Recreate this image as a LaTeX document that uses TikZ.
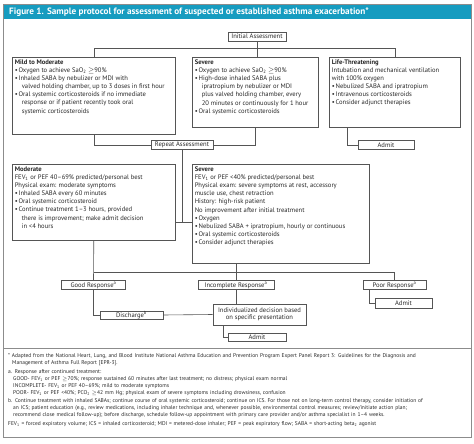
\documentclass[tikz,border=0pt]{standalone}
\usepackage{fontspec}
\setmainfont{PT Sans}
\definecolor{boxc}{RGB}{85,85,85}
\definecolor{framec}{RGB}{140,140,140}
\definecolor{txt}{RGB}{40,40,40}
\definecolor{barc}{RGB}{22,156,192}
\newcommand\bxc[3]{\begin{minipage}[c][#2pt][t]{#1pt}\raggedright #3\end{minipage}}
\newcommand\bul{\par\hangindent=7pt\hangafter=1\noindent\makebox[3.8pt][l]{\textbullet}}
\newcommand\nl{\newline}
\begin{document}
\begin{tikzpicture}[x=1pt,y=-1pt,
  bx/.style={draw=boxc, line width=0.6pt, inner sep=2.5pt, anchor=north west, fill=white, text=txt, font=\fontsize{6.6}{8.1}\selectfont},
  lbl/.style={draw=boxc, line width=0.6pt, inner sep=0pt, text=txt, font=\fontsize{6.6}{7.2}\selectfont, minimum height=8.5pt},
  conn/.style={draw=boxc, line width=0.6pt}]
\useasboundingbox (0,0) rectangle (474,444);
% frame
\fill[barc] (3,4) rectangle (471,19.5);
\draw[framec, line width=0.8pt] (3,4) rectangle (471,437);
\draw[framec, line width=0.6pt] (3,348) -- (471,348);
\node[anchor=west, text=white, inner sep=0, font=\bfseries\fontsize{9.2}{10}\selectfont] (title) at (9,12) {Figure 1. Sample protocol for assessment of suspected or established asthma exacerbation*};
% coordinates
\coordinate (j1) at (257,48.5);
\coordinate (j2) at (182,222);
\coordinate (j3) at (236,272);
\coordinate (k1) at (223,0);
\coordinate (k2) at (369,0);
\coordinate (k3) at (347,0);
% boxes
\node[lbl, minimum width=58pt, minimum height=9pt] (init) at (257,36.5) {Initial Assessment};
\node[bx] (mild) at (12,57) {\bxc{158}{72}{\textbf{Mild to Moderate}\bul Oxygen to achieve SaO\textsubscript{2} $\geq$90\%\bul Inhaled SABA by nebulizer or MDI with\nl valved holding chamber, up to 3 doses in first hour\bul Oral systemic corticosteroids if no immediate\nl response or if patient recently took oral\nl systemic corticosteroids}};
\node[bx] (sev1) at (192,57) {\bxc{121}{65}{\textbf{Severe}\bul Oxygen to achieve SaO\textsubscript{2} $\geq$90\%\bul High-dose inhaled SABA plus\nl ipratropium by nebulizer or MDI\nl plus valved holding chamber, every\nl 20 minutes or continuously for 1 hour\bul Oral systemic corticosteroids}};
\node[bx] (life) at (329,57) {\bxc{126}{65}{\textbf{Life-Threatening}\par Intubation and mechanical ventilation\nl with 100\% oxygen\bul Nebulized SABA and ipratropium\bul Intravenous corticosteroids\bul Consider adjunct therapies}};
\node[lbl, minimum width=62pt] (rep) at (182,145) {Repeat Assessment};
\node[lbl, minimum width=56pt] (adm1) at (386,145) {Admit};
\node[bx] (mod) at (12,164) {\bxc{158}{71}{\textbf{Moderate}\par FEV\textsubscript{1} or PEF 40--69\% predicted/personal best\par Physical exam: moderate symptoms\bul Inhaled SABA every 60 minutes\bul Oral systemic corticosteroid\bul Continue treatment 1--3 hours, provided\nl there is improvement; make admit decision\nl in <4 hours}};
\node[bx] (sev2) at (192,164) {\bxc{172}{94}{\textbf{Severe}\par FEV\textsubscript{1} or PEF <40\% predicted/personal best\par Physical exam: severe symptoms at rest, accessory\nl muscle use, chest retraction\par History: high-risk patient\par No improvement after initial treatment\bul Oxygen\bul Nebulized SABA + ipratropium, hourly or continuous\bul Oral systemic corticosteroids\bul Consider adjunct therapies}};
\node[lbl, minimum width=64pt] (good) at (93.5,285) {Good Response\textsuperscript{a}};
\node[lbl, minimum width=76pt] (inc) at (236,285) {Incomplete Response\textsuperscript{a}};
\node[lbl, minimum width=63pt] (poor) at (394.5,285) {Poor Response\textsuperscript{a}};
\node[lbl, minimum width=63pt, minimum height=8pt] (dis) at (131.5,315) {Discharge\textsuperscript{b}};
\node[lbl, minimum width=93pt, minimum height=21pt, align=center] (ind) at (259.5,314.5) {Individualized decision based\\on specific presentation};
\node[lbl, minimum width=58pt] (adm2) at (257,337.5) {Admit};
\node[lbl, minimum width=57pt, minimum height=10pt] (adm3) at (403.5,303) {Admit};
% connectors
\draw[conn] (init.south) -- (init.south |- sev1.north);
\draw[conn] (mild.north) |- (j1) -| (life.north);
\draw[conn] (mild.south) |- (rep.west);
\draw[conn] (sev1.south) |- (rep.east);
\draw[conn] (life.south -| k3) |- (adm1.west);
\draw[conn] (rep.south) -- (j2);
\draw[conn] (mod.east |- j2) -- (sev2.west |- j2);
\draw[conn] (mod.south) -- (good.north);
\draw[conn] (mod.south |- j3) -| (poor.north);
\draw[conn] (sev2.south -| j3) -- (inc.north);
\draw[conn] (good.south) |- (dis.west);
\draw[conn] (inc.south) -- (inc.south |- ind.north);
\draw[conn] (dis.east) -- (ind.west);
\draw[conn] (ind.south -| k1) |- (adm2.west);
\draw[conn] (poor.south -| k2) |- (adm3.west);
% footnotes
\node[anchor=north west, text=txt, inner sep=0, align=left, text width=462pt, font=\fontsize{5.5}{7.3}\selectfont] (fn) at (8,353) {%
\hangindent=4pt\hangafter=1 * Adapted from the National Heart, Lung, and Blood Institute National Asthma Education and Prevention Program Expert Panel Report 3: Guidelines for the Diagnosis and\nl Management of Asthma Full Report [EPR-3].\par
\vspace{1.3pt}
\hangindent=5pt\hangafter=1 a. Response after continued treatment:\nl GOOD- FEV\textsubscript{1} or PEF $\geq$70\%; response sustained 60 minutes after last treatment; no distress; physical exam normal\nl INCOMPLETE- FEV\textsubscript{1} or PEF 40--69\%; mild to moderate symptoms\nl POOR- FEV\textsubscript{1} or PEF <40\%; PCO\textsubscript{2} $\geq$42 mm Hg; physical exam of severe symptoms including drowsiness, confusion\par
\hangindent=5pt\hangafter=1 b. Continue treatment with inhaled SABAs; continue course of oral systemic corticosteroid; continue on ICS. For those not on long-term control therapy, consider initiation of\nl an ICS; patient education (e.g., review medications, including inhaler technique and, whenever possible, environmental control measures; review/initiate action plan;\nl recommend close medical follow-up); before discharge, schedule follow-up appointment with primary care provider and/or asthma specialist in 1--4 weeks.\par
\vspace{1.3pt}
FEV\textsubscript{1} = forced expiratory volume; ICS = inhaled corticosteroid; MDI = metered-dose inhaler; PEF = peak expiratory flow; SABA = short-acting beta\textsubscript{2} agonist};
\end{tikzpicture}
\end{document}
